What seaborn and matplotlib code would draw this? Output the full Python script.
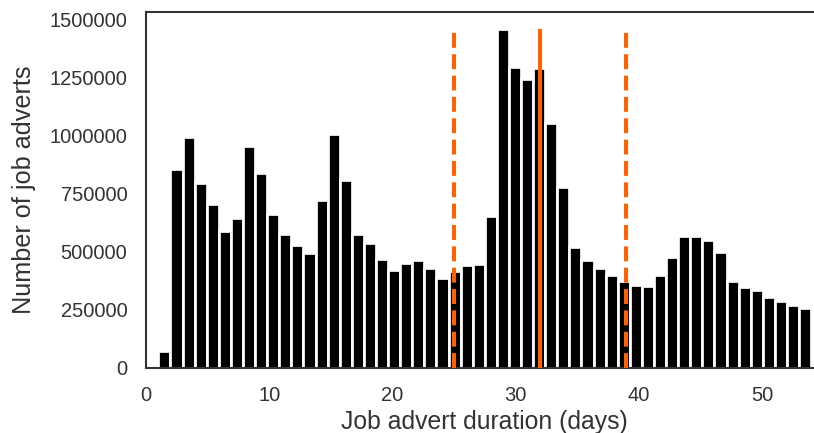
import numpy as np
import pandas as pd
import matplotlib
matplotlib.use("Agg")
import matplotlib.pyplot as plt
from matplotlib.ticker import MultipleLocator
import seaborn as sns

# Advert duration in whole days and the number of adverts for each duration
days = list(range(1, 55))
adverts = [
    71000, 855000, 993000, 798000, 704000, 588000, 646000, 957000, 838000, 663000,
    574000, 527000, 493000, 721000, 1009000, 809000, 574000, 538000, 470000, 422000,
    451000, 464000, 429000, 386000, 415000, 441000, 447000, 652000, 1460000, 1296000,
    1244000, 1290000, 1055000, 779000, 522000, 462000, 429000, 399000, 373000, 357000,
    353000, 399000, 475000, 568000, 568000, 552000, 499000, 374000, 347000, 334000,
    306000, 288000, 270000, 257000,
]

# Lower quartile, median and upper quartile of the duration
quartile_days = [25, 39]
median_day = [32]

x_ticks = [0, 10, 20, 30, 40, 50]

df = pd.DataFrame({"days": days, "adverts": adverts})

sns.set_style("white")
plt.rcParams["font.family"] = ["Liberation Sans", "DejaVu Sans"]
plt.rcParams["axes.edgecolor"] = "#333333"
plt.rcParams["axes.linewidth"] = 1.5

fig = plt.figure(figsize=(8.14, 4.33), dpi=100)
ax = fig.add_axes([0.1794, 0.151, 0.8323, 0.8212])

sns.histplot(
    data=df, x="days", weights="adverts", bins=len(days),
    binrange=(min(days), max(days)), color="black", edgecolor="white",
    linewidth=1.95, alpha=1, ax=ax,
)

peak = df["adverts"].max()
orange = "#ff6200"
ax.vlines(quartile_days, 0, peak, colors=orange, linestyles="--", linewidth=2.9, zorder=3)
ax.vlines(median_day, 0, peak, colors=orange, linestyles="-", linewidth=2.9, zorder=3)

ax.set_xlim(0, 55)
ax.set_xticks(x_ticks)
ax.yaxis.set_major_locator(MultipleLocator(250000))
ax.ticklabel_format(style="plain", axis="y")

ax.tick_params(axis="both", labelsize=14.5, labelcolor="#333333", length=0, pad=13.5)
ax.set_xlabel("Job advert duration (days)", fontsize=17.8, color="#333333", labelpad=3)
ax.set_ylabel("Number of job adverts", fontsize=18.2, color="#333333", labelpad=10)

fig.savefig("out.png", dpi=100)
